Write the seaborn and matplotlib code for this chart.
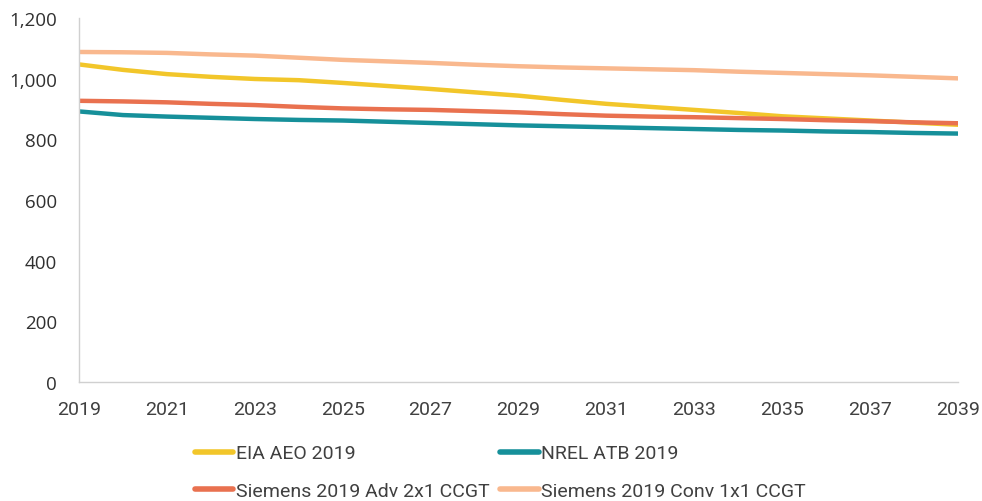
import matplotlib
matplotlib.use("Agg")
import matplotlib.pyplot as plt
import seaborn as sns
import pandas as pd

years = list(range(2019, 2040))

eia_aeo_2019 = [1047, 1029, 1015, 1006, 999, 995, 986, 976, 966, 955, 944,
                930, 917, 907, 897, 887, 876, 869, 862, 855, 848]
nrel_atb_2019 = [892, 880, 875, 871, 867, 864, 862, 858, 854, 850, 846,
                 843, 840, 837, 834, 831, 829, 826, 824, 821, 819]
siemens_adv_2x1 = [927, 925, 922, 917, 913, 907, 902, 899, 897, 893, 889,
                   883, 878, 875, 873, 870, 867, 863, 860, 856, 853]
siemens_conv_1x1 = [1088, 1087, 1085, 1080, 1076, 1069, 1062, 1057, 1052, 1046, 1041,
                    1037, 1034, 1031, 1028, 1023, 1019, 1015, 1011, 1006, 1001]

series_names = ["EIA AEO 2019", "NREL ATB 2019",
                "Siemens 2019 Adv 2x1 CCGT", "Siemens 2019 Conv 1x1 CCGT"]
series_values = [eia_aeo_2019, nrel_atb_2019, siemens_adv_2x1, siemens_conv_1x1]
colors = ["#F2C62A", "#16909A", "#E9714F", "#F9B88E"]

x_ticks = list(range(2019, 2040, 2))
y_ticks = [0, 200, 400, 600, 800, 1000, 1200]

df = pd.DataFrame(
    [(y, name, v) for name, vals in zip(series_names, series_values)
     for y, v in zip(years, vals)],
    columns=["Year", "Series", "Value"],
)

sns.set_theme(style="white")
plt.rcParams["font.family"] = ["Roboto", "DejaVu Sans"]

fig = plt.figure(figsize=(9.82, 5.02), dpi=100)
ax = fig.add_axes([79 / 982, 1 - 383 / 502, (958 - 79) / 982, (383 - 19) / 502])

sns.lineplot(data=df, x="Year", y="Value", hue="Series", hue_order=series_names,
             palette=colors, linewidth=3.2, ax=ax, legend=False)

ax.set_xlim(2019, 2039)
ax.set_ylim(0, 1200)
ax.set_xticks(x_ticks)
ax.set_xticklabels([str(t) for t in x_ticks], fontfamily=["Roboto", "DejaVu Sans"],
                   fontsize=14, color="#404040")
ax.set_yticks(y_ticks)
ax.set_yticklabels([f"{v:,}" for v in y_ticks], fontfamily=["Open Sans", "DejaVu Sans"],
                   fontsize=13.5, color="#303030")
ax.set_xlabel("")
ax.set_ylabel("")

for side in ["top", "right"]:
    ax.spines[side].set_visible(False)
for side in ["left", "bottom"]:
    ax.spines[side].set_color("#D0D0D0")
    ax.spines[side].set_linewidth(1.0)

ax.tick_params(axis="x", length=0, pad=13)
ax.tick_params(axis="y", length=0, pad=16)

# Legend entries ordered so that rows read: EIA | NREL, then Adv | Conv
order = [0, 2, 1, 3]
handles = [plt.Line2D([0], [0], color=colors[i], linewidth=4, solid_capstyle="round")
           for i in order]
labels = [series_names[i] for i in order]
fig.legend(handles, labels, loc="upper left", ncol=2,
           bbox_to_anchor=(177 / 982, 1 - 428 / 502), frameon=False,
           prop={"family": ["Roboto", "DejaVu Sans"], "size": 14},
           handlelength=2.0, handletextpad=0.15,
           columnspacing=0.5, labelspacing=1.0, labelcolor="#404040")

fig.savefig("out.png", dpi=100)
